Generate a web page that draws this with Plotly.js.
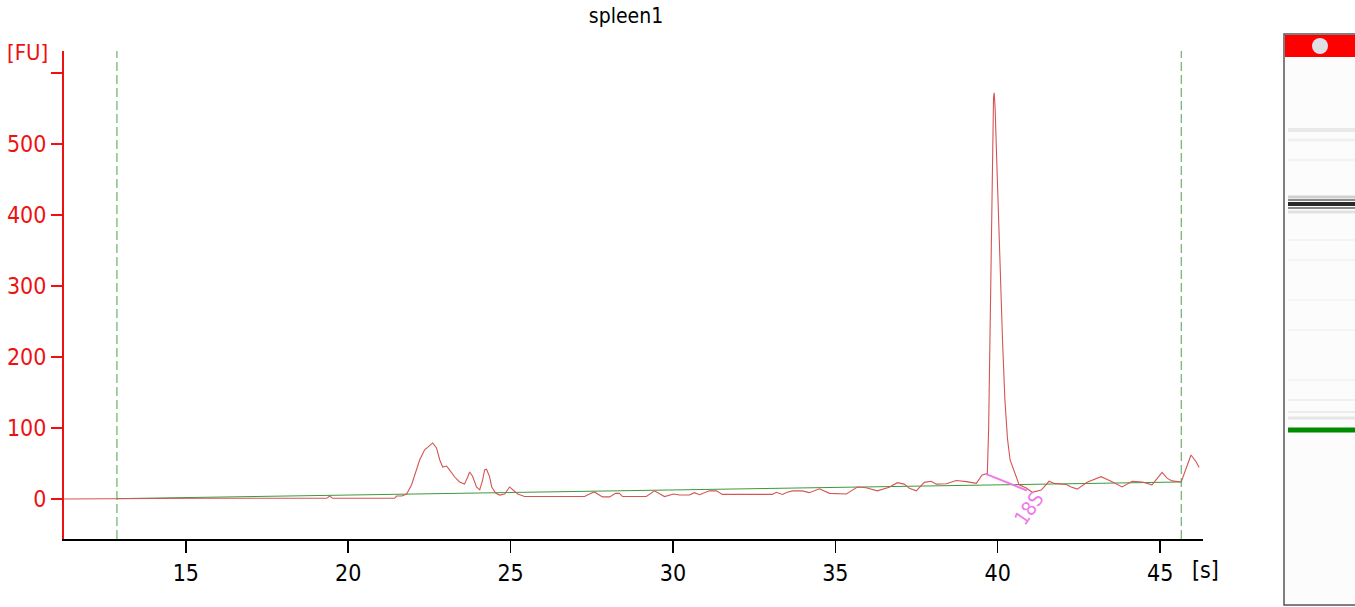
<!DOCTYPE html>
<html>
<head>
<meta charset="utf-8">
<script src="https://cdn.plot.ly/plotly-3.0.1.min.js"></script>
<style>
  html, body { margin: 0; padding: 0; background: #ffffff; }
  #chart { width: 1355px; height: 607px; }
</style>
</head>
<body>
<div id="chart"></div>
<script>
// ---- data ----
const chartTitle = 'spleen1';
const timeS = [11.25, 13.58, 15.43, 18.51, 19.34, 19.43, 19.52, 21.43, 21.49, 21.65, 21.80, 21.95, 22.11, 22.20, 22.35, 22.51, 22.60, 22.72, 22.82, 22.91, 23.03, 23.12, 23.28, 23.43, 23.58, 23.68, 23.74, 23.83, 23.95, 24.05, 24.14, 24.20, 24.26, 24.35, 24.42, 24.54, 24.66, 24.82, 24.97, 25.12, 25.22, 25.43, 27.28, 27.43, 27.58, 27.83, 28.05, 28.23, 28.35, 28.45, 29.18, 29.43, 29.74, 30.02, 30.20, 30.51, 30.66, 30.82, 31.12, 31.34, 31.52, 33.06, 33.18, 33.37, 33.52, 33.68, 33.98, 34.20, 34.51, 34.82, 35.12, 35.34, 35.49, 35.68, 35.95, 36.29, 36.66, 36.91, 37.12, 37.28, 37.49, 37.74, 37.95, 38.11, 38.42, 38.72, 39.03, 39.34, 39.52, 39.68, 39.72, 39.76, 39.80, 39.84, 39.87, 39.89, 39.92, 39.96, 40.02, 40.08, 40.15, 40.22, 40.30, 40.38, 40.51, 40.66, 40.88, 41.06, 41.34, 41.58, 41.74, 42.11, 42.26, 42.45, 42.75, 43.18, 43.49, 43.83, 44.14, 44.45, 44.75, 45.06, 45.22, 45.37, 45.65, 45.95, 46.11, 46.20];
const fluorFU = [0, 0.7, 1, 1, 1, 4.2, 1, 1, 4.2, 4.2, 7, 19.7, 40.8, 54.9, 69, 76, 79, 72, 55, 45, 46.5, 41, 31, 24, 21, 31, 38, 32, 17, 13, 27, 41, 42, 32, 17, 8.5, 5.6, 7, 17, 11, 7, 3.5, 3.5, 7, 10, 3, 3, 8, 8, 3.5, 3.5, 11.5, 3.5, 7, 5.6, 5.6, 9, 6, 11.5, 11.5, 6.5, 6.5, 9.5, 6.5, 9.5, 11.5, 11.5, 9, 14.5, 8, 7, 7, 11.5, 17, 16, 11.5, 16.5, 23, 21, 15, 11.5, 23.5, 25, 21, 21.5, 26, 24.5, 22, 34, 36, 100, 230, 400, 520, 565, 572, 550, 490, 400, 310, 220, 140, 85, 55, 38, 20, 15.5, 9.5, 12.7, 25, 22, 20.5, 17, 14, 23.5, 31.5, 25, 17, 25, 24, 20, 37.5, 29, 25.5, 24, 62, 52.5, 44.5];
const baselineX = [12.88, 45.65];
const baselineY = [0.5, 24];
const markerBoundsS = [12.88, 45.65];          // green dashed lower / upper marker lines
const peakLabel = '18S';
const peakLineX = [39.65, 40.9];
const peakLineY = [35, 12];
const peakLabelPos = [40.95, -14];
const xTickVals = [15, 20, 25, 30, 35, 40, 45];
const xTickText = ['15', '20', '25', '30', '35', '40', '45'];
const yTickVals = [0, 100, 200, 300, 400, 500, 600];
const yTickText = ['0', '100', '200', '300', '400', '500', ''];
const xUnit = '[s]';
const yUnit = '[FU]';
// gel lane bands: position (px from top of figure), thickness, colour
const gelBandPos = [46, 130, 140, 160, 197, 200, 204, 208, 212, 240, 260, 300, 330, 380, 400, 412, 418, 430];
const gelBandH   = [22, 4, 3, 3, 3, 2, 4, 2, 3, 2, 2, 2, 2, 2, 2, 2, 3, 5];
const gelBandCol = ['#ff0000', '#e9e9e9', '#f1f1f1', '#f3f3f3', '#d0d0d0', '#8a8a8a', '#2a2a2a', '#8a8a8a', '#e2e2e2', '#f4f4f4', '#f4f4f4', '#f5f5f5', '#f5f5f5', '#f4f4f4', '#f0f0f0', '#ebebeb', '#e6e6e6', '#008a00'];

// ---- layout helpers ----
const FIG_H = 607;
const plotL = 64, plotR = 1203, plotT = 51, plotB = 539;
const pw = plotR - plotL, ph = plotB - plotT;
const px2paperX = p => (p - plotL) / pw;
const px2paperY = p => (plotB - p) / ph;

const font = 'DejaVu Sans Condensed, Liberation Sans, DejaVu Sans, sans-serif';

const traces = [
  { x: baselineX, y: baselineY, type: 'scatter', mode: 'lines',
    line: { color: '#3c9a3c', width: 1 }, hoverinfo: 'skip', showlegend: false },
  { x: timeS, y: fluorFU, type: 'scatter', mode: 'lines',
    line: { color: '#d45555', width: 1.1 }, hoverinfo: 'skip', showlegend: false },
  { x: peakLineX, y: peakLineY, type: 'scatter', mode: 'lines',
    line: { color: '#f07ae8', width: 2 }, hoverinfo: 'skip', showlegend: false }
];

const shapes = [];
markerBoundsS.forEach(v => shapes.push({
  type: 'line', xref: 'x', yref: 'paper', x0: v, x1: v, y0: 0, y1: 1,
  line: { color: '#4f9f4f', width: 1, dash: '9px,4px' }
}));
// gel lane frame
const gL = 1284, gR = 1356, gT = 34, gB = 605;
shapes.push({ type: 'rect', xref: 'paper', yref: 'paper',
  x0: px2paperX(gL), x1: px2paperX(gR), y0: px2paperY(gB), y1: px2paperY(gT),
  line: { color: '#555555', width: 1.5 }, fillcolor: '#fcfcfc' });
gelBandPos.forEach((p, i) => shapes.push({ type: 'rect', xref: 'paper', yref: 'paper',
  x0: px2paperX(i === 0 ? gL + 1 : gL + 4), x1: px2paperX(gR),
  y0: px2paperY(p + gelBandH[i] / 2), y1: px2paperY(p - gelBandH[i] / 2),
  line: { width: 0 }, fillcolor: gelBandCol[i] }));
// marker spot in the red band
shapes.push({ type: 'circle', xref: 'paper', yref: 'paper',
  x0: px2paperX(1312), x1: px2paperX(1328), y0: px2paperY(54), y1: px2paperY(38),
  line: { width: 0 }, fillcolor: '#dfdfe6' });

const layout = {
  width: 1355, height: FIG_H,
  margin: { l: plotL, r: 1355 - plotR, t: plotT, b: FIG_H - plotB, pad: 0 },
  paper_bgcolor: '#ffffff', plot_bgcolor: '#ffffff',
  font: { family: font, size: 22, color: '#000000' },
  title: { text: chartTitle, x: px2paperX(626), xref: 'paper', xanchor: 'center',
    y: 1 - 16 / FIG_H, yref: 'container', yanchor: 'middle',
    font: { family: font, size: 21, color: '#000000' } },
  xaxis: { range: [11.25, 46.32], tickmode: 'array', tickvals: xTickVals, ticktext: xTickText,
    showgrid: false, zeroline: false, showline: true, linecolor: '#000000', linewidth: 2,
    ticks: 'outside', ticklen: 12, tickwidth: 1.5, tickcolor: '#000000',
    tickfont: { family: font, size: 23, color: '#000000' }, fixedrange: true },
  yaxis: { range: [-56.3, 631], tickmode: 'array', tickvals: yTickVals, ticktext: yTickText,
    showgrid: false, zeroline: false, showline: true, linecolor: '#ee1111', linewidth: 2,
    ticks: 'outside', ticklen: 11, tickwidth: 2, tickcolor: '#ee1111',
    tickfont: { family: font, size: 23, color: '#ee1111' }, fixedrange: true },
  shapes: shapes,
  annotations: [
    { text: xUnit, xref: 'paper', yref: 'paper', x: px2paperX(1190), y: px2paperY(570),
      xanchor: 'left', yanchor: 'middle', showarrow: false,
      font: { family: font, size: 23, color: '#000000' } },
    { text: yUnit, xref: 'paper', yref: 'paper', x: px2paperX(27), y: px2paperY(53),
      xanchor: 'center', yanchor: 'middle', showarrow: false,
      font: { family: font, size: 22, color: '#ee1111' } },
    { text: peakLabel, xref: 'x', yref: 'y', x: peakLabelPos[0], y: peakLabelPos[1],
      xanchor: 'center', yanchor: 'middle', showarrow: false, textangle: -55,
      font: { family: font, size: 20, color: '#f07ae8' } }
  ]
};

Plotly.newPlot('chart', traces, layout, { displayModeBar: false, staticPlot: true });
</script>
</body>
</html>
